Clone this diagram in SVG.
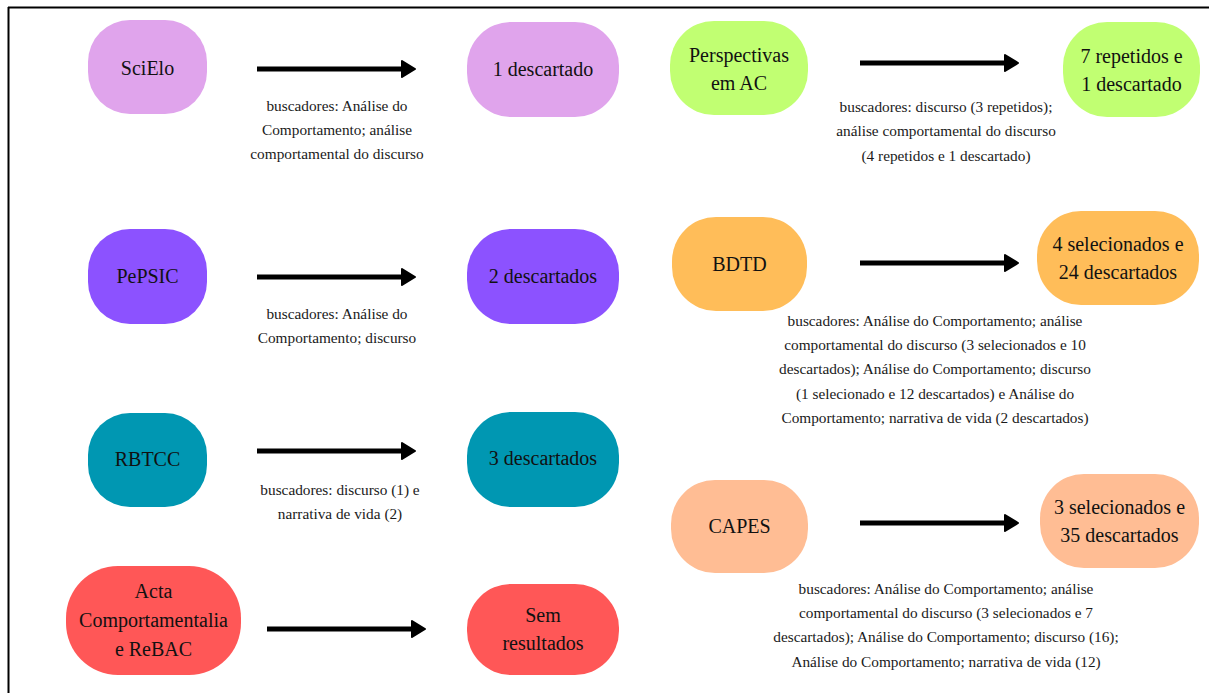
<svg xmlns="http://www.w3.org/2000/svg" width="1209" height="693" viewBox="0 0 1209 693">
<style>
.nt{font-family:"Liberation Serif","Times New Roman",serif;font-size:20px;fill:#111;text-anchor:middle}
.lb{font-family:"Liberation Serif","Times New Roman",serif;font-size:15.3px;fill:#1a1a1a;text-anchor:middle}
.ar{stroke:#000;stroke-width:5;fill:none}
</style>
<defs>
<marker id="ah" markerUnits="userSpaceOnUse" markerWidth="18" markerHeight="20" refX="1" refY="9" orient="auto" overflow="visible">
<path d="M1,1 L14,9 L1,17 Z" fill="#000" stroke="#000" stroke-width="2" stroke-linejoin="round"/>
</marker>
</defs>
<rect width="1209" height="693" fill="#fff"/>
<g id="frame" stroke="#000" stroke-width="2" fill="none">
<line x1="8" y1="7.5" x2="1209" y2="7.5"/>
<line x1="8.5" y1="7" x2="8.5" y2="693"/>
</g>
<g id="connectors">
<line class="ar" x1="257" y1="69" x2="402" y2="69" marker-end="url(#ah)"/>
<line class="ar" x1="257" y1="277" x2="402" y2="277" marker-end="url(#ah)"/>
<line class="ar" x1="257" y1="451" x2="402" y2="451" marker-end="url(#ah)"/>
<line class="ar" x1="267" y1="629" x2="412" y2="629" marker-end="url(#ah)"/>
<line class="ar" x1="860" y1="63" x2="1005" y2="63" marker-end="url(#ah)"/>
<line class="ar" x1="860" y1="263" x2="1005" y2="263" marker-end="url(#ah)"/>
<line class="ar" x1="860" y1="523" x2="1005" y2="523" marker-end="url(#ah)"/>
<text class="lb" x="337" y="111">buscadores: Análise do</text>
<text class="lb" x="337" y="135">Comportamento; análise</text>
<text class="lb" x="337" y="159">comportamental do discurso</text>
<text class="lb" x="337" y="319">buscadores: Análise do</text>
<text class="lb" x="337" y="343">Comportamento; discurso</text>
<text class="lb" x="340" y="495">buscadores: discurso (1) e</text>
<text class="lb" x="340" y="519">narrativa de vida (2)</text>
<text class="lb" x="946" y="112">buscadores: discurso (3 repetidos);</text>
<text class="lb" x="946" y="136">análise comportamental do discurso</text>
<text class="lb" x="946" y="161">(4 repetidos e 1 descartado)</text>
<text class="lb" x="935" y="326">buscadores: Análise do Comportamento; análise</text>
<text class="lb" x="935" y="350">comportamental do discurso (3 selecionados e 10</text>
<text class="lb" x="935" y="374">descartados); Análise do Comportamento; discurso</text>
<text class="lb" x="935" y="399">(1 selecionado e 12 descartados) e Análise do</text>
<text class="lb" x="935" y="423">Comportamento; narrativa de vida (2 descartados)</text>
<text class="lb" x="946" y="594">buscadores: Análise do Comportamento; análise</text>
<text class="lb" x="946" y="618">comportamental do discurso (3 selecionados e 7</text>
<text class="lb" x="946" y="642">descartados); Análise do Comportamento; discurso (16);</text>
<text class="lb" x="946" y="667">Análise do Comportamento; narrativa de vida (12)</text>
</g>
<g id="scielo"><rect x="88" y="20" width="119" height="94" rx="42" fill="#e0a4ec"/><text class="nt" x="147.5" y="75">SciElo</text></g>
<g id="scielo-res"><rect x="467" y="22" width="152" height="95" rx="44" fill="#e0a4ec"/><text class="nt" x="543" y="76">1 descartado</text></g>
<g id="pepsic"><rect x="88" y="229" width="119" height="95" rx="42" fill="#8c52ff"/><text class="nt" x="147.5" y="283">PePSIC</text></g>
<g id="pepsic-res"><rect x="467" y="229" width="152" height="95" rx="44" fill="#8c52ff"/><text class="nt" x="543" y="283">2 descartados</text></g>
<g id="rbtcc"><rect x="88" y="413" width="119" height="94" rx="42" fill="#0097b2"/><text class="nt" x="147.5" y="466">RBTCC</text></g>
<g id="rbtcc-res"><rect x="467" y="412" width="152" height="95" rx="44" fill="#0097b2"/><text class="nt" x="543" y="465">3 descartados</text></g>
<g id="acta"><rect x="66" y="566" width="175" height="109" rx="52" fill="#ff5757"/><text class="nt" x="153.5" y="598">Acta</text><text class="nt" x="153.5" y="627">Comportamentalia</text><text class="nt" x="153.5" y="656">e ReBAC</text></g>
<g id="acta-res"><rect x="467" y="584" width="152" height="91" rx="44" fill="#ff5757"/><text class="nt" x="543" y="622">Sem</text><text class="nt" x="543" y="650">resultados</text></g>
<g id="perspectivas"><rect x="670" y="21" width="138" height="94" rx="44" fill="#c1ff72"/><text class="nt" x="739" y="62">Perspectivas</text><text class="nt" x="739" y="90">em AC</text></g>
<g id="perspectivas-res"><rect x="1063" y="22" width="137" height="95" rx="44" fill="#c1ff72"/><text class="nt" x="1131.5" y="63">7 repetidos e</text><text class="nt" x="1131.5" y="91">1 descartado</text></g>
<g id="bdtd"><rect x="672" y="217" width="135" height="94" rx="44" fill="#ffbd59"/><text class="nt" x="739.5" y="271">BDTD</text></g>
<g id="bdtd-res"><rect x="1037" y="211" width="162" height="94" rx="44" fill="#ffbd59"/><text class="nt" x="1118" y="251">4 selecionados e</text><text class="nt" x="1118" y="279">24 descartados</text></g>
<g id="capes"><rect x="671" y="480" width="137" height="93" rx="44" fill="#ffbd94"/><text class="nt" x="739.5" y="533">CAPES</text></g>
<g id="capes-res"><rect x="1040" y="474" width="159" height="94" rx="44" fill="#ffbd94"/><text class="nt" x="1119.5" y="514">3 selecionados e</text><text class="nt" x="1119.5" y="542">35 descartados</text></g>
</svg>
